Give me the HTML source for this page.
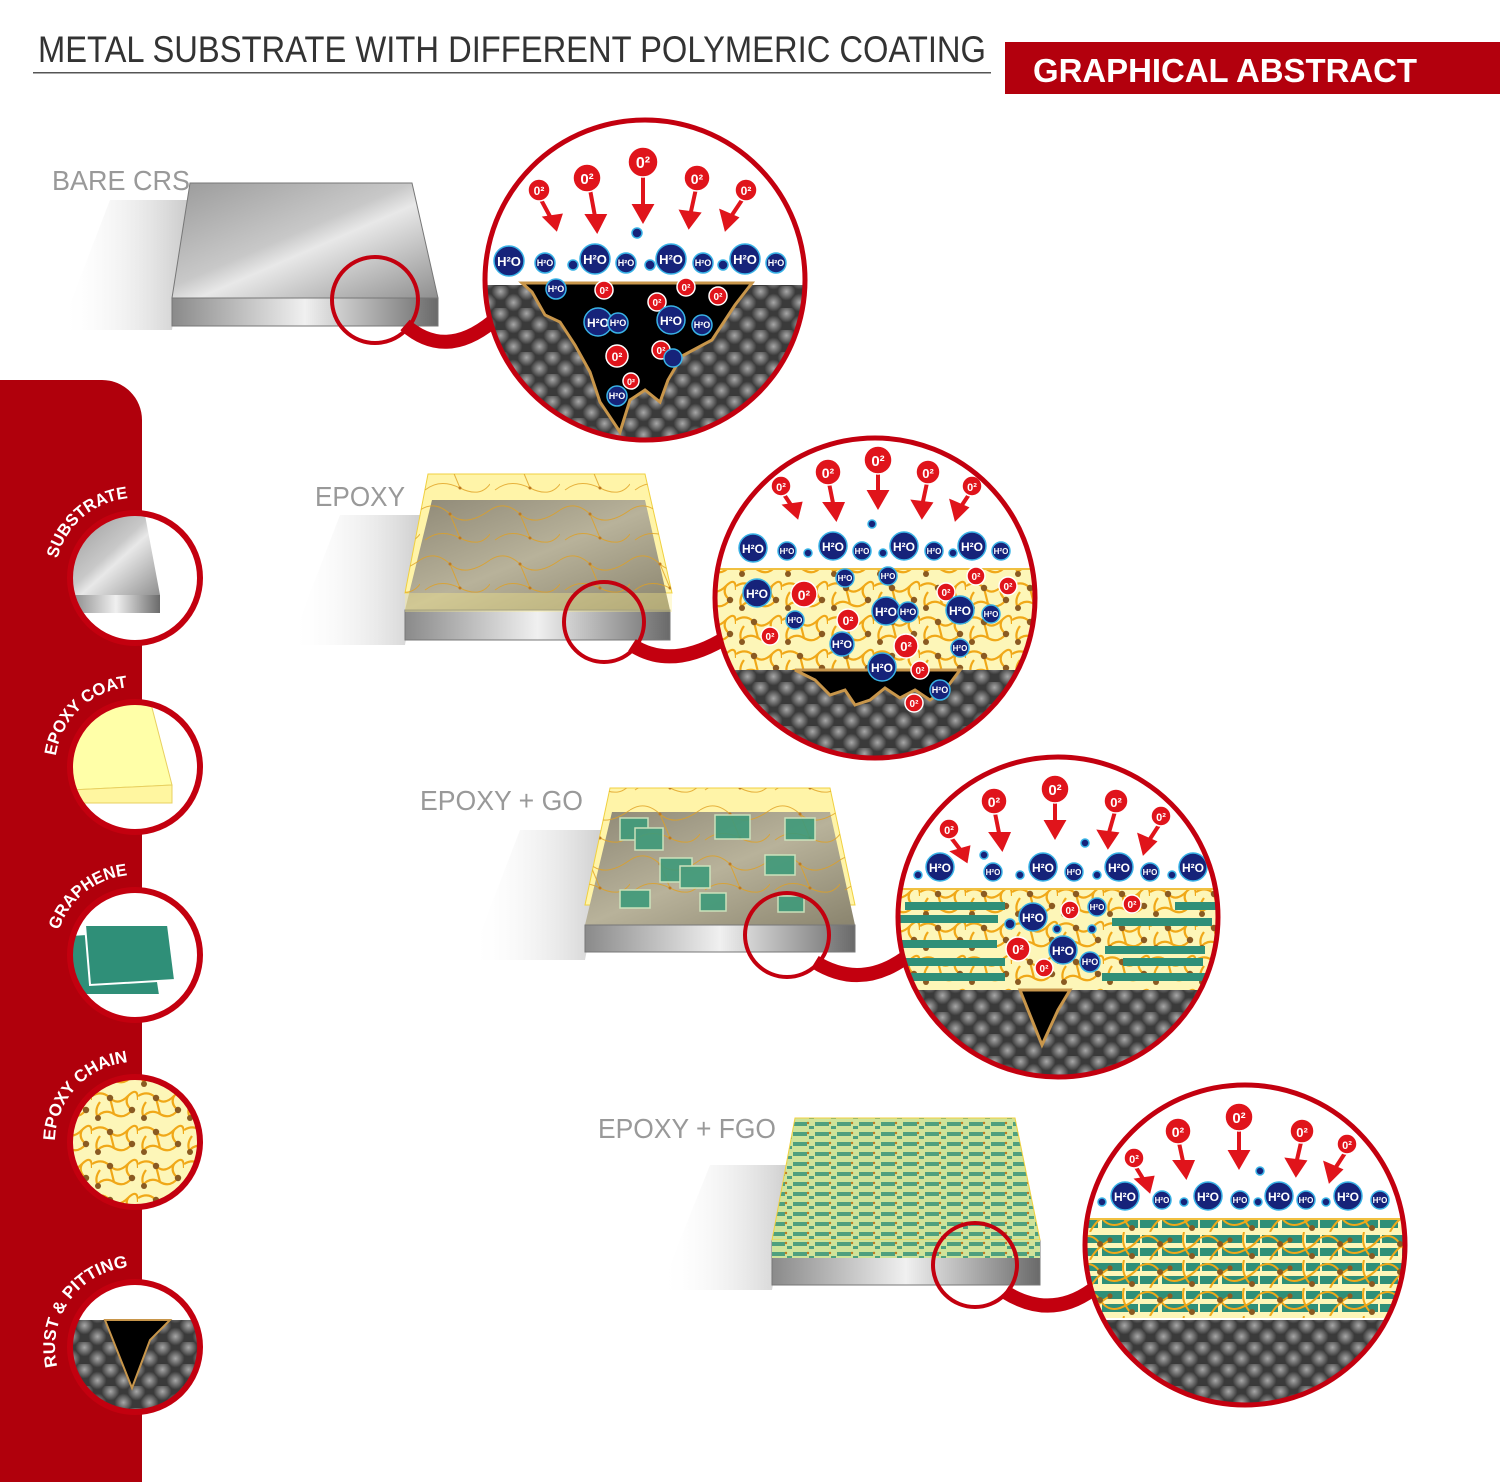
<!DOCTYPE html>
<html><head><meta charset="utf-8"><style>
html,body{margin:0;padding:0;background:#fff;}
svg{display:block}
.mol circle{fill:#16237a;stroke:#39b3e6;stroke-width:1.5}
.mol text{fill:#fff;font-family:"Liberation Sans",sans-serif;font-weight:bold;text-anchor:middle}
.ox circle{fill:#e0141b;stroke:#fff;stroke-width:1.5}
.ox text{fill:#fff;font-family:"Liberation Sans",sans-serif;font-weight:bold;text-anchor:middle}
.lbl{font-family:"Liberation Sans",sans-serif;font-size:28px;fill:#999}
.side{font-family:"Liberation Sans",sans-serif;font-weight:bold;font-size:17px;fill:#fff}
</style></head><body>
<svg width="1500" height="1482" viewBox="0 0 1500 1482" xmlns="http://www.w3.org/2000/svg">
<defs>
<radialGradient id="hb" cx="50%" cy="50%" r="50%"><stop offset="0" stop-color="#a8a8a8"/><stop offset="1" stop-color="#3a3a3a"/></radialGradient>
<pattern id="hex" width="26" height="22" patternUnits="userSpaceOnUse">
<rect width="26" height="22" fill="#3a3a3a"/>
<circle cx="6.5" cy="5.5" r="9" fill="url(#hb)"/><circle cx="19.5" cy="16.5" r="9" fill="url(#hb)"/>
<circle cx="19.5" cy="-5.5" r="9" fill="url(#hb)"/><circle cx="32.5" cy="5.5" r="9" fill="url(#hb)"/><circle cx="-6.5" cy="16.5" r="9" fill="url(#hb)"/>
</pattern>
<pattern id="chain" width="46" height="34" patternUnits="userSpaceOnUse">
<rect width="46" height="34" fill="#fdf6b8"/>
<g fill="none" stroke="#f0a818" stroke-width="2.2">
<path d="M0 8 Q10 2 18 10 T36 8 T46 12"/><path d="M4 30 Q12 20 22 26 T40 22"/><path d="M18 10 Q20 18 22 26"/><path d="M36 8 Q32 16 40 22"/><path d="M8 14 Q2 22 6 30"/>
</g>
<g fill="#8a5a22"><circle cx="18" cy="10" r="3.2"/><circle cx="40" cy="22" r="3.2"/><circle cx="6" cy="30" r="3"/></g>
</pattern>
<pattern id="strand" width="70" height="50" patternUnits="userSpaceOnUse">
<g fill="none" stroke="#e0a020" stroke-width="1" opacity="0.8"><path d="M0 10 Q15 0 30 14 T70 10"/><path d="M5 40 Q20 28 40 38 T70 34"/><path d="M30 14 Q35 26 40 38"/></g>
<g fill="#c07a20"><circle cx="30" cy="14" r="1.5"/><circle cx="40" cy="38" r="1.5"/></g>
</pattern>
<pattern id="fgo" width="60" height="28" patternUnits="userSpaceOnUse">
<rect width="60" height="28" fill="#fdf6b8"/>
<rect x="2" y="3" width="40" height="8" fill="#2f8f78"/><rect x="46" y="3" width="14" height="8" fill="#2f8f78"/>
<rect x="0" y="16" width="18" height="8" fill="#2f8f78"/><rect x="22" y="16" width="36" height="8" fill="#2f8f78"/>
<g fill="none" stroke="#f0a818" stroke-width="2"><path d="M0 6 Q12 0 20 12 T40 20 T60 6"/><path d="M10 28 Q16 16 30 8"/><path d="M44 0 Q40 14 52 26"/></g>
<g fill="#8a5a22"><circle cx="20" cy="12" r="3"/><circle cx="52" cy="24" r="3"/><circle cx="30" cy="8" r="2.6"/></g>
</pattern>
<pattern id="fgos" width="22" height="10" patternUnits="userSpaceOnUse">
<rect width="22" height="10" fill="#cfe39a"/><rect x="1" y="2" width="14" height="4" fill="#4fa07e"/><rect x="17" y="6" width="5" height="3" fill="#4fa07e"/><circle cx="16" cy="3" r="1.2" fill="#c07a20"/>
</pattern>
<linearGradient id="metal" x1="0" y1="0" x2="1" y2="1"><stop offset="0" stop-color="#9a9a9a"/><stop offset="0.45" stop-color="#c8c8c8"/><stop offset="0.55" stop-color="#e8e8e8"/><stop offset="1" stop-color="#8f8f8f"/></linearGradient>
<linearGradient id="metal2" x1="0" y1="0" x2="1" y2="1"><stop offset="0" stop-color="#8e8876"/><stop offset="0.5" stop-color="#b8b29a"/><stop offset="1" stop-color="#8a846e"/></linearGradient>
<linearGradient id="front" x1="0" y1="0" x2="1" y2="0"><stop offset="0" stop-color="#8a8a8a"/><stop offset="0.5" stop-color="#f0f0f0"/><stop offset="1" stop-color="#6a6a6a"/></linearGradient>
<linearGradient id="shadow" x1="1" y1="0" x2="0" y2="0"><stop offset="0" stop-color="#c9c9c9"/><stop offset="1" stop-color="#fff" stop-opacity="0"/></linearGradient>
<clipPath id="c1"><circle cx="645" cy="280" r="158"/></clipPath>
<clipPath id="c2"><circle cx="875" cy="598" r="158"/></clipPath>
<clipPath id="c3"><circle cx="1058" cy="917" r="158"/></clipPath>
<clipPath id="c4"><circle cx="1245" cy="1245" r="158"/></clipPath>
<clipPath id="s1"><circle cx="135" cy="578" r="64"/></clipPath>
<clipPath id="s2"><circle cx="135" cy="767" r="64"/></clipPath>
<clipPath id="s3"><circle cx="135" cy="955" r="64"/></clipPath>
<clipPath id="s4"><circle cx="135" cy="1142" r="64"/></clipPath>
<clipPath id="s5"><circle cx="135" cy="1347" r="64"/></clipPath>
<path id="a1" d="M57.4 558.6 A80 80 0 0 1 128 498.3"/>
<path id="a2" d="M55.8 755.9 A80 80 0 0 1 128 687.3"/>
<path id="a3" d="M58.9 930.3 A80 80 0 0 1 128 875.3"/>
<path id="a4" d="M55 1140.6 A80 80 0 0 1 128 1062.3"/>
<path id="a5" d="M57.4 1366.4 A80 80 0 0 1 128 1267.3"/>
</defs>

<!-- header -->
<text x="38" y="62" font-family="Liberation Sans,sans-serif" font-size="37" fill="#333" textLength="948" lengthAdjust="spacingAndGlyphs">METAL SUBSTRATE WITH DIFFERENT POLYMERIC COATING</text>
<rect x="33" y="72" width="958" height="1.5" fill="#555"/>
<rect x="1005" y="42" width="495" height="52" fill="#b3000d"/>
<text x="1033" y="82" font-family="Liberation Sans,sans-serif" font-size="33" font-weight="bold" fill="#fff" textLength="384" lengthAdjust="spacingAndGlyphs">GRAPHICAL ABSTRACT</text>

<!-- sidebar -->
<path d="M0 380 H102 A40 40 0 0 1 142 420 V1482 H0 Z" fill="#b0000c"/>
<g>
<circle cx="135" cy="578" r="64" fill="#fff"/>
<g clip-path="url(#s1)"><polygon points="72,520 145,515 160,595 72,595" fill="url(#metal)"/><polygon points="72,595 160,595 160,613 72,613" fill="url(#front)"/></g>
<circle cx="135" cy="578" r="65" fill="none" stroke="#c3000f" stroke-width="6"/>
<circle cx="135" cy="767" r="64" fill="#fff"/>
<g clip-path="url(#s2)"><polygon points="72,705 150,700 172,785 70,790" fill="#ffffa8" stroke="#e8d060"/><polygon points="70,790 172,785 172,803 70,803" fill="#fff6a0" stroke="#e8d060"/></g>
<circle cx="135" cy="767" r="65" fill="none" stroke="#c3000f" stroke-width="6"/>
<circle cx="135" cy="955" r="64" fill="#fff"/>
<g clip-path="url(#s3)"><polygon points="70,935 150,930 160,995 72,995" fill="#2f8f78" stroke="#fff" stroke-width="2"/><polygon points="85,925 168,925 175,980 90,985" fill="#2f8f78" stroke="#fff" stroke-width="2"/></g>
<circle cx="135" cy="955" r="65" fill="none" stroke="#c3000f" stroke-width="6"/>
<circle cx="135" cy="1142" r="64" fill="url(#chain)"/>
<circle cx="135" cy="1142" r="65" fill="none" stroke="#c3000f" stroke-width="6"/>
<circle cx="135" cy="1347" r="64" fill="#fff"/>
<g clip-path="url(#s5)"><rect x="60" y="1320" width="160" height="100" fill="url(#hex)"/><polygon points="105,1320 170,1320 150,1340 132,1388" fill="#000" stroke="#c8964b" stroke-width="2"/></g>
<circle cx="135" cy="1347" r="65" fill="none" stroke="#c3000f" stroke-width="6"/>
<text class="side"><textPath href="#a1" textLength="99" lengthAdjust="spacingAndGlyphs">SUBSTRATE</textPath></text>
<text class="side"><textPath href="#a2" textLength="107" lengthAdjust="spacingAndGlyphs">EPOXY COAT</textPath></text>
<text class="side"><textPath href="#a3" textLength="93" lengthAdjust="spacingAndGlyphs">GRAPHENE</textPath></text>
<text class="side"><textPath href="#a4" textLength="117" lengthAdjust="spacingAndGlyphs">EPOXY CHAIN</textPath></text>
<text class="side"><textPath href="#a5" textLength="138" lengthAdjust="spacingAndGlyphs">RUST &amp; PITTING</textPath></text>
</g>

<!-- labels -->
<text class="lbl" x="52" y="190" textLength="138" lengthAdjust="spacingAndGlyphs">BARE CRS</text>
<text class="lbl" x="315" y="506" textLength="90" lengthAdjust="spacingAndGlyphs">EPOXY</text>
<text class="lbl" x="420" y="810" textLength="163" lengthAdjust="spacingAndGlyphs">EPOXY + GO</text>
<text class="lbl" x="598" y="1138" textLength="178" lengthAdjust="spacingAndGlyphs">EPOXY + FGO</text>

<!-- slab 1 -->
<polygon points="110,200 190,200 172,330 60,330" fill="url(#shadow)"/>
<polygon points="190,183 412,183 438,298 172,298" fill="url(#metal)" stroke="#777"/>
<polygon points="172,298 438,298 438,326 172,326" fill="url(#front)" stroke="#777"/>
<!-- slab 2 -->
<polygon points="340,515 428,515 405,645 290,645" fill="url(#shadow)"/>
<polygon points="428,474 645,474 672,593 405,593" fill="#fff4a8" stroke="#f0d040"/>
<polygon points="432,500 645,500 670,610 405,610" fill="url(#metal2)"/>
<polygon points="405,610 670,610 670,640 405,640" fill="url(#front)" stroke="#777"/>
<polygon points="405,593 672,593 672,612 405,612" fill="#fff08a" fill-opacity="0.35"/>
<polygon points="428,474 645,474 672,593 405,593" fill="url(#strand)"/>
<!-- slab 3 -->
<polygon points="520,830 610,830 585,960 470,960" fill="url(#shadow)"/>
<polygon points="610,788 830,788 855,905 585,905" fill="#fff4a8" stroke="#f0d040"/>
<polygon points="612,812 830,812 855,925 585,925" fill="url(#metal2)"/>
<polygon points="585,925 855,925 855,952 585,952" fill="url(#front)" stroke="#777"/>
<polygon points="610,788 830,788 855,905 585,905" fill="url(#strand)"/>
<g fill="#3f9a7a" stroke="#cfe8c0" stroke-width="1.5" opacity="0.9">
<rect x="620" y="818" width="28" height="22"/><rect x="635" y="828" width="28" height="22"/><rect x="715" y="815" width="35" height="24"/><rect x="785" y="818" width="30" height="22"/><rect x="660" y="858" width="32" height="24"/><rect x="680" y="866" width="30" height="22"/><rect x="765" y="855" width="30" height="20"/><rect x="620" y="890" width="30" height="18"/><rect x="700" y="893" width="26" height="18"/><rect x="778" y="896" width="26" height="16"/>
</g>
<!-- slab 4 -->
<polygon points="710,1165 795,1165 772,1290 660,1290" fill="url(#shadow)"/>
<polygon points="772,1240 1040,1240 1040,1285 772,1285" fill="url(#front)" stroke="#777"/>
<polygon points="795,1118 1015,1118 1040,1240 772,1240" fill="url(#fgos)" stroke="#f0d040"/>
<polygon points="772,1240 1040,1240 1040,1258 772,1258" fill="url(#fgos)"/>

<!-- small circles & connectors -->
<g fill="none" stroke="#c3000f">
<path d="M405 325 Q445 360 492 322" stroke-width="14"/>
<circle cx="375" cy="300" r="43" stroke-width="4"/>
<path d="M632 645 Q670 670 722 640" stroke-width="14"/>
<circle cx="604" cy="622" r="40" stroke-width="4"/>
<path d="M815 962 Q860 990 905 958" stroke-width="14"/>
<circle cx="787" cy="935" r="42" stroke-width="4"/>
<path d="M1005 1292 Q1050 1320 1092 1290" stroke-width="14"/>
<circle cx="975" cy="1265" r="42" stroke-width="4"/>
</g>

<!-- big circle 1 -->
<g clip-path="url(#c1)">
<rect x="480" y="115" width="330" height="330" fill="#fff"/>
<rect x="480" y="285" width="330" height="170" fill="url(#hex)"/>
<polygon points="522,283 532,292 545,315 560,322 575,345 590,372 600,402 620,432 630,400 645,390 660,402 668,380 682,356 712,340 735,305 752,283" fill="#000" stroke="#c8964b" stroke-width="3"/>
</g>
<g fill="#e0141b" stroke="#e0141b" stroke-width="4">
<line x1="539" y1="196" x2="553" y2="222"/><polygon points="546,218 560,216 556,228"/>
<line x1="589" y1="184" x2="596" y2="222"/><polygon points="588,216 604,216 597,230"/>
<line x1="643" y1="168" x2="643" y2="210"/><polygon points="635,206 651,206 643,220"/>
<line x1="697" y1="184" x2="690" y2="216"/><polygon points="682,212 698,214 689,226"/>
<line x1="746" y1="194" x2="730" y2="218"/><polygon points="722,212 736,218 726,228"/>
</g>
<g class="ox">
<circle cx="539" cy="190" r="11"/><text x="539" y="195" font-size="12">0²</text>
<circle cx="587" cy="178" r="14"/><text x="587" y="184" font-size="15">0²</text>
<circle cx="643" cy="162" r="15"/><text x="643" y="168" font-size="16">0²</text>
<circle cx="697" cy="178" r="13"/><text x="697" y="184" font-size="14">0²</text>
<circle cx="746" cy="190" r="11"/><text x="746" y="195" font-size="12">0²</text>
<circle cx="604" cy="290" r="9"/><text x="604" y="294" font-size="10">0²</text>
<circle cx="657" cy="302" r="9"/><text x="657" y="306" font-size="10">0²</text>
<circle cx="686" cy="287" r="9"/><text x="686" y="291" font-size="10">0²</text>
<circle cx="718" cy="296" r="9"/><text x="718" y="300" font-size="10">0²</text>
<circle cx="617" cy="356" r="11"/><text x="617" y="361" font-size="12">0²</text>
<circle cx="661" cy="350" r="9"/><text x="661" y="354" font-size="10">0²</text>
<circle cx="631" cy="381" r="8"/><text x="631" y="385" font-size="9">0²</text>
</g>
<g class="mol">
<circle cx="509" cy="261" r="15"/><text x="509" y="266" font-size="13">H²O</text>
<circle cx="545" cy="263" r="10"/><text x="545" y="266" font-size="9">H²O</text>
<circle cx="573" cy="265" r="5"/>
<circle cx="595" cy="259" r="15"/><text x="595" y="264" font-size="13">H²O</text>
<circle cx="626" cy="263" r="10"/><text x="626" y="266" font-size="9">H²O</text>
<circle cx="650" cy="265" r="5"/><circle cx="637" cy="233" r="5"/>
<circle cx="671" cy="259" r="15"/><text x="671" y="264" font-size="13">H²O</text>
<circle cx="703" cy="263" r="10"/><text x="703" y="266" font-size="9">H²O</text>
<circle cx="723" cy="265" r="5"/>
<circle cx="745" cy="259" r="15"/><text x="745" y="264" font-size="13">H²O</text>
<circle cx="776" cy="263" r="10"/><text x="776" y="266" font-size="9">H²O</text>
<circle cx="556" cy="289" r="10"/><text x="556" y="292" font-size="9">H²O</text>
<circle cx="598" cy="322" r="14"/><text x="598" y="327" font-size="12">H²O</text>
<circle cx="618" cy="323" r="10"/><text x="618" y="326" font-size="9">H²O</text>
<circle cx="671" cy="320" r="14"/><text x="671" y="325" font-size="12">H²O</text>
<circle cx="702" cy="325" r="10"/><text x="702" y="328" font-size="9">H²O</text>
<circle cx="673" cy="358" r="9"/><circle cx="617" cy="396" r="10"/><text x="617" y="399" font-size="9">H²O</text>
</g>
<circle cx="645" cy="280" r="160" fill="none" stroke="#c3000f" stroke-width="5"/>

<!-- big circle 2 -->
<g clip-path="url(#c2)">
<rect x="710" y="435" width="330" height="330" fill="#fff"/>
<rect x="710" y="568" width="330" height="102" fill="url(#chain)"/>
<rect x="710" y="568" width="330" height="2" fill="#f0c040"/>
<rect x="710" y="670" width="330" height="100" fill="url(#hex)"/>
<path d="M795 670 L815 680 L830 695 L845 690 L855 705 L870 700 L885 688 L900 698 L915 690 L930 700 L945 690 L960 670 Z" fill="#000" stroke="#c8964b" stroke-width="3"/>
</g>
<g fill="#e0141b" stroke="#e0141b" stroke-width="4">
<line x1="781" y1="490" x2="793" y2="508"/><polygon points="786,506 800,504 797,516"/>
<line x1="828" y1="478" x2="834" y2="508"/><polygon points="826,504 842,504 836,518"/>
<line x1="878" y1="466" x2="878" y2="496"/><polygon points="870,492 886,492 878,506"/>
<line x1="928" y1="478" x2="922" y2="506"/><polygon points="914,502 930,504 922,516"/>
<line x1="972" y1="490" x2="960" y2="508"/><polygon points="952,502 966,508 956,518"/>
</g>
<g class="ox">
<circle cx="781" cy="486" r="10"/><text x="781" y="491" font-size="11">0²</text>
<circle cx="828" cy="472" r="13"/><text x="828" y="478" font-size="14">0²</text>
<circle cx="878" cy="460" r="14"/><text x="878" y="466" font-size="15">0²</text>
<circle cx="928" cy="472" r="12"/><text x="928" y="478" font-size="13">0²</text>
<circle cx="972" cy="486" r="10"/><text x="972" y="491" font-size="11">0²</text>
<circle cx="804" cy="594" r="13"/><text x="804" y="600" font-size="14">0²</text>
<circle cx="848" cy="620" r="11"/><text x="848" y="625" font-size="12">0²</text>
<circle cx="906" cy="646" r="12"/><text x="906" y="651" font-size="13">0²</text>
<circle cx="976" cy="576" r="9"/><text x="976" y="580" font-size="10">0²</text>
<circle cx="1008" cy="586" r="9"/><text x="1008" y="590" font-size="10">0²</text>
<circle cx="946" cy="592" r="9"/><text x="946" y="596" font-size="10">0²</text>
<circle cx="770" cy="636" r="9"/><text x="770" y="640" font-size="10">0²</text>
<circle cx="920" cy="670" r="9"/><text x="920" y="674" font-size="10">0²</text>
<circle cx="914" cy="703" r="9"/><text x="914" y="707" font-size="10">0²</text>
</g>
<g class="mol">
<circle cx="753" cy="548" r="14"/><text x="753" y="553" font-size="12">H²O</text>
<circle cx="787" cy="551" r="9"/><text x="787" y="554" font-size="8">H²O</text>
<circle cx="833" cy="546" r="14"/><text x="833" y="551" font-size="12">H²O</text>
<circle cx="862" cy="551" r="9"/><text x="862" y="554" font-size="8">H²O</text>
<circle cx="904" cy="546" r="14"/><text x="904" y="551" font-size="12">H²O</text>
<circle cx="934" cy="551" r="9"/><text x="934" y="554" font-size="8">H²O</text>
<circle cx="972" cy="546" r="14"/><text x="972" y="551" font-size="12">H²O</text>
<circle cx="1001" cy="551" r="9"/><text x="1001" y="554" font-size="8">H²O</text>
<circle cx="808" cy="553" r="4"/><circle cx="883" cy="553" r="4"/><circle cx="953" cy="553" r="4"/><circle cx="872" cy="524" r="4"/>
<circle cx="757" cy="593" r="14"/><text x="757" y="598" font-size="12">H²O</text>
<circle cx="845" cy="578" r="9"/><text x="845" y="581" font-size="8">H²O</text>
<circle cx="888" cy="576" r="9"/><text x="888" y="579" font-size="8">H²O</text>
<circle cx="886" cy="611" r="14"/><text x="886" y="616" font-size="12">H²O</text>
<circle cx="908" cy="612" r="10"/><text x="908" y="615" font-size="9">H²O</text>
<circle cx="960" cy="610" r="14"/><text x="960" y="615" font-size="12">H²O</text>
<circle cx="991" cy="614" r="9"/><text x="991" y="617" font-size="8">H²O</text>
<circle cx="795" cy="620" r="9"/><text x="795" y="623" font-size="8">H²O</text>
<circle cx="842" cy="644" r="12"/><text x="842" y="648" font-size="11">H²O</text>
<circle cx="882" cy="667" r="14"/><text x="882" y="672" font-size="12">H²O</text>
<circle cx="960" cy="648" r="9"/><text x="960" y="651" font-size="8">H²O</text>
<circle cx="940" cy="690" r="10"/><text x="940" y="693" font-size="9">H²O</text>
</g>
<circle cx="875" cy="598" r="160" fill="none" stroke="#c3000f" stroke-width="5"/>

<!-- big circle 3 -->
<g clip-path="url(#c3)">
<rect x="895" y="755" width="330" height="330" fill="#fff"/>
<rect x="895" y="888" width="330" height="102" fill="url(#chain)"/>
<rect x="895" y="888" width="330" height="2" fill="#f0c040"/>
<g fill="#2f8f78">
<rect x="905" y="902" width="100" height="8"/><rect x="898" y="915" width="100" height="8"/><rect x="902" y="940" width="95" height="8"/><rect x="905" y="958" width="100" height="8"/><rect x="910" y="973" width="95" height="8"/>
<rect x="1112" y="918" width="100" height="8"/><rect x="1175" y="902" width="45" height="8"/><rect x="1105" y="946" width="100" height="8"/><rect x="1123" y="958" width="80" height="8"/><rect x="1102" y="973" width="110" height="8"/>
</g>
<rect x="895" y="990" width="330" height="100" fill="url(#hex)"/>
<polygon points="1020,990 1070,990 1058,1010 1042,1045" fill="#000" stroke="#c8964b" stroke-width="3"/>
</g>
<g fill="#e0141b" stroke="#e0141b" stroke-width="4">
<line x1="949" y1="835" x2="962" y2="852"/><polygon points="954,852 968,848 966,860"/>
<line x1="994" y1="808" x2="1000" y2="838"/><polygon points="992,834 1008,834 1002,848"/>
<line x1="1055" y1="796" x2="1055" y2="826"/><polygon points="1047,822 1063,822 1055,836"/>
<line x1="1116" y1="808" x2="1108" y2="836"/><polygon points="1100,832 1116,834 1108,846"/>
<line x1="1161" y1="822" x2="1148" y2="842"/><polygon points="1140,836 1154,842 1144,852"/>
</g>
<g class="ox">
<circle cx="949" cy="829" r="10"/><text x="949" y="834" font-size="11">0²</text>
<circle cx="994" cy="801" r="13"/><text x="994" y="807" font-size="14">0²</text>
<circle cx="1055" cy="789" r="14"/><text x="1055" y="795" font-size="15">0²</text>
<circle cx="1116" cy="801" r="12"/><text x="1116" y="807" font-size="13">0²</text>
<circle cx="1161" cy="816" r="10"/><text x="1161" y="821" font-size="11">0²</text>
<circle cx="1070" cy="910" r="9"/><text x="1070" y="914" font-size="10">0²</text>
<circle cx="1132" cy="904" r="9"/><text x="1132" y="908" font-size="10">0²</text>
<circle cx="1018" cy="949" r="12"/><text x="1018" y="954" font-size="13">0²</text>
<circle cx="1044" cy="968" r="9"/><text x="1044" y="972" font-size="10">0²</text>
</g>
<g class="mol">
<circle cx="940" cy="867" r="14"/><text x="940" y="872" font-size="12">H²O</text>
<circle cx="993" cy="872" r="9"/><text x="993" y="875" font-size="8">H²O</text>
<circle cx="1043" cy="867" r="14"/><text x="1043" y="872" font-size="12">H²O</text>
<circle cx="1074" cy="872" r="9"/><text x="1074" y="875" font-size="8">H²O</text>
<circle cx="1119" cy="867" r="14"/><text x="1119" y="872" font-size="12">H²O</text>
<circle cx="1150" cy="872" r="9"/><text x="1150" y="875" font-size="8">H²O</text>
<circle cx="1193" cy="867" r="14"/><text x="1193" y="872" font-size="12">H²O</text>
<circle cx="918" cy="875" r="4"/><circle cx="1020" cy="875" r="4"/><circle cx="1097" cy="875" r="4"/><circle cx="1172" cy="875" r="4"/><circle cx="984" cy="855" r="4"/><circle cx="1085" cy="843" r="4"/>
<circle cx="1033" cy="917" r="14"/><text x="1033" y="922" font-size="12">H²O</text>
<circle cx="1097" cy="907" r="9"/><text x="1097" y="910" font-size="8">H²O</text>
<circle cx="1063" cy="950" r="14"/><text x="1063" y="955" font-size="12">H²O</text>
<circle cx="1090" cy="962" r="10"/><text x="1090" y="965" font-size="9">H²O</text>
<circle cx="1010" cy="924" r="5"/><circle cx="1057" cy="929" r="4"/><circle cx="1092" cy="929" r="4"/>
</g>
<circle cx="1058" cy="917" r="160" fill="none" stroke="#c3000f" stroke-width="5"/>

<!-- big circle 4 -->
<g clip-path="url(#c4)">
<rect x="1080" y="1080" width="330" height="330" fill="#fff"/>
<rect x="1080" y="1218" width="330" height="100" fill="url(#fgo)"/>
<rect x="1080" y="1218" width="330" height="2" fill="#f0c040"/>
<rect x="1080" y="1320" width="330" height="100" fill="url(#hex)"/>
</g>
<g fill="#e0141b" stroke="#e0141b" stroke-width="4">
<line x1="1134" y1="1164" x2="1145" y2="1182"/><polygon points="1138,1180 1152,1178 1149,1190"/>
<line x1="1178" y1="1138" x2="1184" y2="1166"/><polygon points="1176,1162 1192,1162 1186,1176"/>
<line x1="1239" y1="1124" x2="1239" y2="1156"/><polygon points="1231,1152 1247,1152 1239,1166"/>
<line x1="1302" y1="1138" x2="1296" y2="1164"/><polygon points="1288,1160 1304,1162 1296,1174"/>
<line x1="1347" y1="1150" x2="1334" y2="1170"/><polygon points="1326,1164 1340,1170 1330,1180"/>
</g>
<g class="ox">
<circle cx="1134" cy="1158" r="10"/><text x="1134" y="1163" font-size="11">0²</text>
<circle cx="1178" cy="1131" r="13"/><text x="1178" y="1137" font-size="14">0²</text>
<circle cx="1239" cy="1117" r="14"/><text x="1239" y="1123" font-size="15">0²</text>
<circle cx="1302" cy="1131" r="12"/><text x="1302" y="1137" font-size="13">0²</text>
<circle cx="1347" cy="1144" r="10"/><text x="1347" y="1149" font-size="11">0²</text>
</g>
<g class="mol">
<circle cx="1125" cy="1196" r="14"/><text x="1125" y="1201" font-size="12">H²O</text>
<circle cx="1162" cy="1200" r="9"/><text x="1162" y="1203" font-size="8">H²O</text>
<circle cx="1208" cy="1196" r="14"/><text x="1208" y="1201" font-size="12">H²O</text>
<circle cx="1240" cy="1200" r="9"/><text x="1240" y="1203" font-size="8">H²O</text>
<circle cx="1279" cy="1196" r="14"/><text x="1279" y="1201" font-size="12">H²O</text>
<circle cx="1306" cy="1200" r="9"/><text x="1306" y="1203" font-size="8">H²O</text>
<circle cx="1348" cy="1196" r="14"/><text x="1348" y="1201" font-size="12">H²O</text>
<circle cx="1380" cy="1200" r="9"/><text x="1380" y="1203" font-size="8">H²O</text>
<circle cx="1102" cy="1202" r="4"/><circle cx="1184" cy="1202" r="4"/><circle cx="1258" cy="1202" r="4"/><circle cx="1326" cy="1202" r="4"/><circle cx="1260" cy="1171" r="4"/>
</g>
<circle cx="1245" cy="1245" r="160" fill="none" stroke="#c3000f" stroke-width="5"/>
</svg>
</body></html>
